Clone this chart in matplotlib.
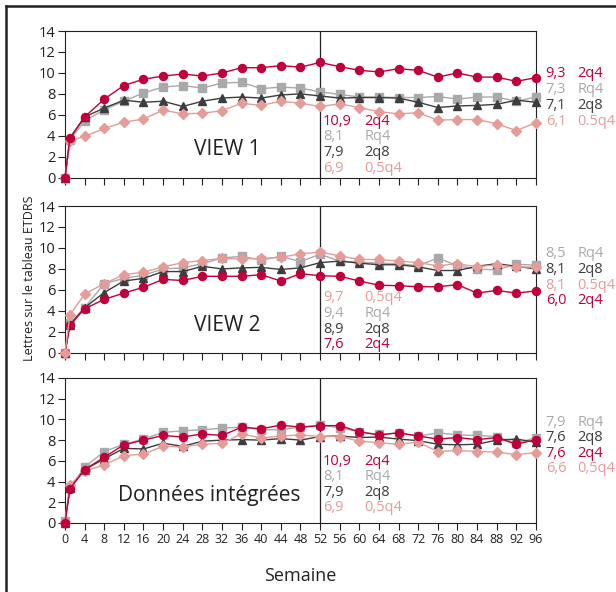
import matplotlib
matplotlib.use("Agg")
import matplotlib.pyplot as plt
from matplotlib.lines import Line2D

plt.rcParams['font.family'] = ['Open Sans', 'DejaVu Sans']

# semaines
weeks = [0, 1] + list(range(4, 100, 4))

# VIEW 1
v1_2q4 = [0, 3.75, 5.8, 7.5, 8.8, 9.4, 9.7, 9.9, 9.7, 10.0, 10.5, 10.5, 10.7, 10.55, 11.0,
          10.6, 10.25, 10.1, 10.4, 10.25, 9.6, 10.0, 9.6, 9.6, 9.2, 9.55]
v1_rq4 = [0, 3.6, 5.4, 6.5, 7.3, 8.1, 8.65, 8.8, 8.55, 9.05, 9.1, 8.5, 8.65, 8.55, 8.2,
          7.95, 7.7, 7.7, 7.65, 7.65, 7.75, 7.5, 7.7, 7.7, 7.3, 7.7]
v1_2q8 = [0, 3.8, 5.8, 6.65, 7.4, 7.2, 7.3, 6.8, 7.3, 7.6, 7.7, 7.6, 7.9, 8.0, 7.8,
          7.6, 7.65, 7.65, 7.6, 7.2, 6.7, 6.85, 6.9, 7.0, 7.4, 7.2]
v1_05q4 = [0, 3.5, 3.95, 4.7, 5.3, 5.6, 6.45, 6.1, 6.15, 6.4, 7.1, 6.9, 7.3, 7.1, 6.8,
           7.05, 6.7, 6.3, 6.1, 6.2, 5.5, 5.55, 5.55, 5.15, 4.5, 5.25]

# VIEW 2
v2_2q4 = [0, 2.65, 4.2, 5.1, 5.7, 6.25, 7.0, 6.9, 7.3, 7.3, 7.3, 7.45, 6.85, 7.55, 7.35,
          7.3, 6.85, 6.45, 6.4, 6.3, 6.3, 6.5, 5.7, 5.95, 5.7, 5.9]
v2_rq4 = [0, 2.8, 4.3, 6.6, 7.1, 7.4, 8.0, 8.1, 8.5, 9.05, 9.2, 8.85, 9.2, 8.7, 9.4,
          8.75, 8.65, 8.55, 8.5, 8.3, 9.05, 8.3, 8.0, 7.9, 8.45, 8.35]
v2_2q8 = [0, 2.65, 4.3, 5.75, 6.85, 7.1, 7.75, 7.75, 8.25, 8.0, 8.1, 8.15, 7.95, 8.1, 8.6,
          8.75, 8.55, 8.4, 8.4, 8.2, 7.85, 7.85, 8.25, 8.5, 8.25, 8.0]
v2_05q4 = [0, 3.6, 5.6, 6.6, 7.45, 7.7, 8.2, 8.6, 8.8, 9.0, 8.95, 9.0, 9.1, 9.45, 9.6,
           9.25, 8.9, 8.9, 8.75, 8.6, 8.3, 8.5, 8.2, 8.4, 8.15, 8.2]

# Données intégrées
v3_2q4 = [0, 3.3, 5.15, 6.35, 7.55, 8.0, 8.45, 8.3, 8.6, 8.45, 9.25, 9.1, 9.45, 9.25, 9.4,
          9.4, 8.8, 8.5, 8.7, 8.4, 8.1, 8.25, 8.05, 8.25, 7.6, 8.05]
v3_rq4 = [0.2, 3.4, 5.4, 6.9, 7.6, 8.1, 8.75, 8.9, 9.0, 9.15, 9.25, 9.0, 9.0, 9.25, 9.45,
          9.2, 8.8, 8.55, 8.7, 8.4, 8.7, 8.5, 8.45, 8.35, 7.7, 8.25]
v3_2q8 = [0, 3.4, 5.15, 6.2, 7.2, 7.15, 7.7, 7.4, 7.9, 8.0, 8.05, 8.0, 8.15, 8.0, 8.35,
          8.4, 8.25, 8.3, 8.1, 7.95, 7.6, 7.55, 7.6, 8.0, 8.1, 7.8]
v3_05q4 = [0.1, 3.7, 5.0, 5.6, 6.5, 6.65, 7.4, 7.35, 7.6, 7.7, 8.6, 8.2, 8.4, 8.5, 8.35,
           8.35, 7.9, 7.75, 7.6, 7.8, 6.9, 7.0, 6.9, 6.85, 6.6, 6.8]

titles = ["VIEW 1", "VIEW 2", "Données intégrées"]

# textes à la semaine 52 et à la semaine 96 : (valeur, groupe)
labels_52 = [
    [("10,9", "2q4"), ("8,1", "Rq4"), ("7,9", "2q8"), ("6,9", "0,5q4")],
    [("9,7", "0,5q4"), ("9,4", "Rq4"), ("8,9", "2q8"), ("7,6", "2q4")],
    [("10,9", "2q4"), ("8,1", "Rq4"), ("7,9", "2q8"), ("6,9", "0,5q4")],
]
labels_96 = [
    [("9,3", "2q4"), ("7,3", "Rq4"), ("7,1", "2q8"), ("6,1", "0.5q4")],
    [("8,5", "Rq4"), ("8,1", "2q8"), ("8,1", "0.5q4"), ("6,0", "2q4")],
    [("7,9", "Rq4"), ("7,6", "2q8"), ("7,6", "2q4"), ("6,6", "0,5q4")],
]

colors = {"2q4": "#c0003a", "Rq4": "#a9a9ab", "2q8": "#3d3d3f", "0,5q4": "#e59c99", "0.5q4": "#e59c99"}
markers = {"2q4": "o", "Rq4": "s", "2q8": "^", "0,5q4": "D"}
msizes = {"2q4": 5.8, "Rq4": 5.3, "2q8": 5.5, "0,5q4": 4.8}

panels = [
    {"Rq4": v1_rq4, "2q8": v1_2q8, "0,5q4": v1_05q4, "2q4": v1_2q4},
    {"Rq4": v2_rq4, "2q8": v2_2q8, "2q4": v2_2q4, "0,5q4": v2_05q4},
    {"Rq4": v3_rq4, "2q8": v3_2q8, "0,5q4": v3_05q4, "2q4": v3_2q4},
]

fig = plt.figure(figsize=(6.16, 5.92), dpi=100)

# cadre du document
fig.add_artist(Line2D([0.010, 1.0], [0.990, 0.990], color="#222222", lw=1.8))
fig.add_artist(Line2D([0.010, 0.010], [0.0, 0.990], color="#222222", lw=1.8))

boxes = [(0.1055, 0.6998, 0.7645, 0.2478),
         (0.1055, 0.4040, 0.7645, 0.2480),
         (0.1055, 0.1166, 0.7645, 0.2449)]
left_y = [5.4, 5.25, 5.95]
right_y = [9.9, 9.45, 9.75]
title_x = [33, 33, 29.5]
title_y = [2.65, 2.65, 2.7]

for i, (data, box) in enumerate(zip(panels, boxes)):
    ax = fig.add_axes(box)
    for name, vals in data.items():
        ax.plot(weeks, vals, color=colors[name], marker=markers[name], ms=msizes[name],
                lw=1.0, clip_on=False, zorder=3)
    ax.axvline(52, color="#222222", lw=0.9, zorder=2)
    ax.set_xlim(0, 96)
    ax.set_ylim(0, 14)
    ax.set_xticks(range(0, 100, 4))
    ax.set_yticks(range(0, 15, 2))
    ax.tick_params(axis="both", direction="out", length=5, width=0.8, colors="#222222",
                   labelsize=10.5, labelcolor="#222222", pad=2)
    if i < 2:
        ax.tick_params(axis="x", labelbottom=False)
    else:
        ax.tick_params(axis="x", labelsize=9)
    for s in ax.spines.values():
        s.set_linewidth(0.8)
        s.set_color("#222222")

    ax.text(title_x[i], title_y[i], titles[i], ha="center", va="center", fontsize=15, color="#222222")

    step = 1.5
    for k, (num, grp) in enumerate(labels_52[i]):
        y = left_y[i] - k * step
        ax.text(52.6, y, num, color=colors[grp], fontsize=10.5, va="center", ha="left")
        ax.text(61.0, y, grp, color=colors[grp], fontsize=10.5, va="center", ha="left")
    for k, (num, grp) in enumerate(labels_96[i]):
        y = right_y[i] - k * step
        ax.text(98.0, y, num, color=colors[grp], fontsize=10.5, va="center", ha="left", clip_on=False)
        ax.text(104.5, y, grp, color=colors[grp], fontsize=10.5, va="center", ha="left", clip_on=False)

    if i == 2:
        ax.set_xlabel("Semaine", fontsize=13, color="#222222", labelpad=15)

fig.text(0.048, 0.53, "Lettres sur le tableau ETDRS", rotation=90, ha="center", va="center",
         fontsize=9, color="#222222")

fig.savefig("out.png", dpi=100)
